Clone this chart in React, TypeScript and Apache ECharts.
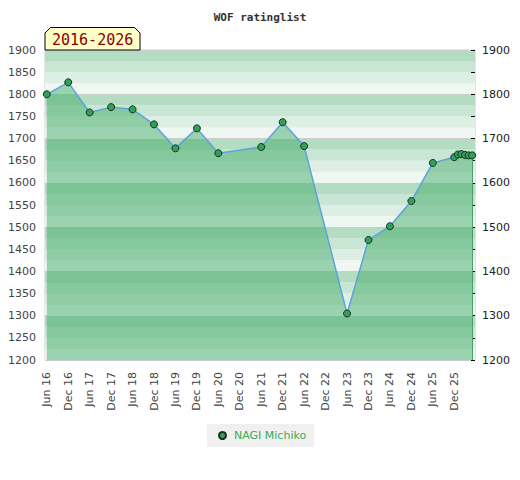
import React, { useEffect, useRef } from "react";
import * as echarts from "echarts";

const tickLabels = ["Jun 16","Dec 16","Jun 17","Dec 17","Jun 18","Dec 18","Jun 19","Dec 19","Jun 20","Dec 20","Jun 21","Dec 21","Jun 22","Dec 22","Jun 23","Dec 23","Jun 24","Dec 24","Jun 25","Dec 25"];
const tickMonths = [0,6,12,18,24,30,36,42,48,54,60,66,72,78,84,90,96,102,108,114];

// months since Jun 2016
const months = [0,6,12,18,24,30,36,42,48,60,66,72,84,90,96,102,108,114,115,116,117,118,119];
const ratings = [1800,1827,1759,1771,1766,1732,1678,1723,1667,1681,1737,1683,1305,1471,1502,1559,1645,1658,1664,1665,1663,1662,1662];

const playerName = "NAGI Michiko";
const periodLabel = "2016-2026";

const Y_MIN = 1200;
const Y_MAX = 1900;
const GRID = { left: 45, right: 45, top: 50, bottom: 120 };
const H = 480;

const bgColors = ["#eff7f2", "#ddefe4", "#c8e6d3", "#b3dcc3"]; // from bottom of each 100 block upward
const underColors = ["#7bc395", "#86c99e", "#90cda6", "#9ad2af"]; // from top of each 100 block downward

export default function App() {
  const ref = useRef<HTMLDivElement>(null);
  useEffect(() => {
    document.body.style.margin = "0";
    if (!ref.current) return;
    const chart = echarts.init(ref.current, undefined, { renderer: "svg" });
    const stripes = (Y_MAX - Y_MIN) / 25;
    const stops: { offset: number; color: string }[] = [];
    for (let k = 0; k < stripes; k++) {
      const c = underColors[k % 4];
      stops.push({ offset: k / stripes, color: c });
      stops.push({ offset: (k + 1) / stripes, color: c });
    }
    const gradient = new echarts.graphic.LinearGradient(
      0, GRID.top, 0, H - GRID.bottom, stops, true
    );
    const data = months.map((m, i) => [m, ratings[i]]);
    const last = months.length - 1;
    const labelMap: Record<number, string> = {};
    tickMonths.forEach((m, i) => (labelMap[m] = tickLabels[i]));

    chart.setOption({
      animation: false,
      title: {
        text: "WOF ratinglist",
        left: "center",
        top: 7,
        textStyle: { fontFamily: "DejaVu Sans Mono", fontWeight: "bold", fontSize: 11, color: "#333" },
      },
      grid: { ...GRID, show: true, borderColor: "#cccccc", borderWidth: 1, backgroundColor: "transparent" },
      legend: {
        left: 207,
        top: 424,
        padding: [6, 8, 6, 11],
        backgroundColor: "#f0f0f0",
        itemWidth: 7,
        itemHeight: 7,
        itemGap: 5,
        textStyle: { color: "#3aaa5e", fontSize: 11, fontFamily: "DejaVu Sans", padding: [0, 0, 0, 3] },
        data: [{ name: playerName, icon: "circle" }],
      },
      xAxis: {
        type: "value",
        min: -0.5,
        max: 119.8,
        axisLine: { show: false },
        axisTick: { show: false },
        splitLine: { show: false },
        axisLabel: {
          customValues: tickMonths,
          rotate: 90,
          margin: 12,
          color: "#444",
          fontSize: 11,
          fontFamily: "DejaVu Sans",
          formatter: (v: number) => labelMap[Math.round(v)] ?? "",
        },
      },
      yAxis: [
        {
          type: "value",
          min: Y_MIN,
          max: Y_MAX,
          interval: 50,
          position: "left",
          axisLine: { show: false },
          axisTick: { show: false },
          splitLine: { show: false },
          axisLabel: {
            color: "#444", fontSize: 11, fontFamily: "DejaVu Sans", margin: 9,
            formatter: (v: number) => String(v),
          },
        },
        {
          type: "value",
          min: Y_MIN,
          max: Y_MAX,
          interval: 50,
          position: "right",
          axisLine: { show: false },
          axisTick: { show: true, inside: true, length: 4, interval: 0, lineStyle: { color: "#000" } },
          splitLine: { show: false },
          axisLabel: {
            color: "#222", fontSize: 11, fontFamily: "DejaVu Sans", margin: 7,
            formatter: (v: number) => (v % 100 === 0 ? String(v) : ""),
          },
        },
        {
          type: "value",
          min: Y_MIN,
          max: Y_MAX,
          interval: 25,
          position: "left",
          axisLine: { show: false },
          axisTick: { show: false },
          axisLabel: { show: false },
          splitArea: { show: true, areaStyle: { color: bgColors } },
          splitLine: {
            show: true,
            lineStyle: { color: ["#cccccc", "rgba(0,0,0,0)", "rgba(0,0,0,0)", "rgba(0,0,0,0)"], width: 1 },
          },
        },
      ],
      series: [
        {
          name: playerName,
          type: "line",
          yAxisIndex: 0,
          data,
          symbol: "circle",
          symbolSize: 7,
          itemStyle: { color: "#33a05a", borderColor: "#15301f", borderWidth: 1 },
          lineStyle: { color: "#5ca3dc", width: 1.5 },
          areaStyle: { color: gradient, opacity: 1, origin: "start" },
          markLine: {
            silent: true,
            z: 2,
            symbol: ["none", "none"],
            label: { show: false },
            lineStyle: { color: "#3a9a5a", width: 1, type: "solid" },
            data: [
              [{ coord: [months[0], ratings[0]] }, { coord: [months[0], Y_MIN] }],
              [{ coord: [months[last], ratings[last]] }, { coord: [months[last], Y_MIN] }],
            ],
          },
        },
      ],
      graphic: [
        {
          type: "polygon",
          shape: { points: [[45, 50], [45, 33], [50.5, 27.5], [134.5, 27.5], [140, 33], [140, 50]] },
          style: { fill: "#ffffc8", stroke: "#000", lineWidth: 1 },
          z: 10,
        },
        {
          type: "text",
          left: 52,
          top: 32,
          style: { text: periodLabel, fill: "#8b0000", font: "15px 'DejaVu Sans Mono'" },
          z: 11,
        },
      ],
    });
    return () => chart.dispose();
  }, []);
  return <div ref={ref} style={{ width: 520, height: 480 }} />;
}
